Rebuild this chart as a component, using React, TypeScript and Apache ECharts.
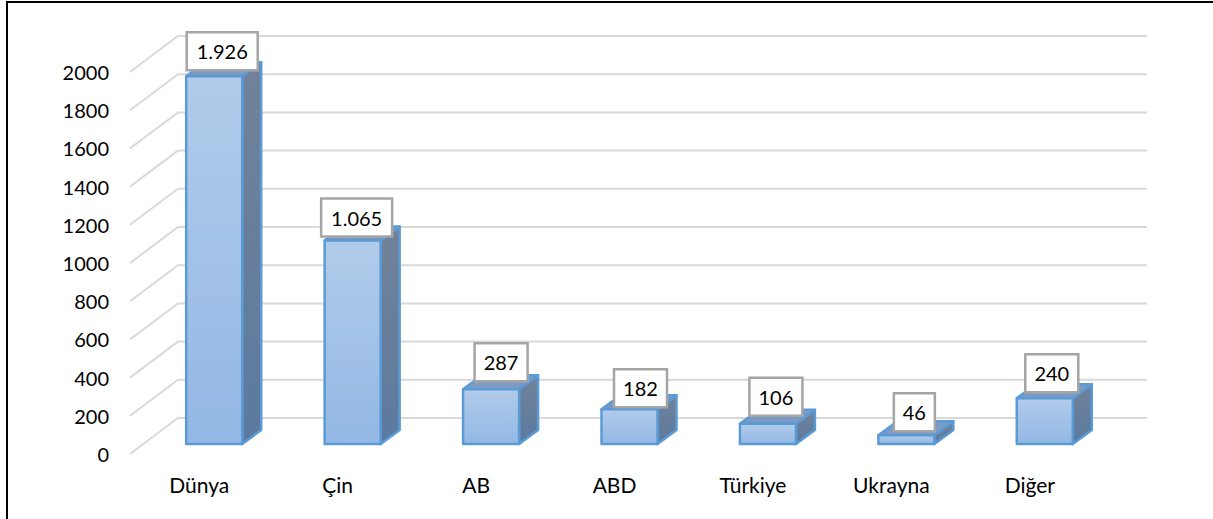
import React, { useEffect, useRef } from "react";
import * as echarts from "echarts";

const categories = ["Dünya", "Çin", "AB", "ABD", "Türkiye", "Ukrayna", "Diğer"];
const values = [1926, 1065, 287, 182, 106, 46, 240];
const labels = ["1.926", "1.065", "287", "182", "106", "46", "240"];
const ticks = [0, 200, 400, 600, 800, 1000, 1200, 1400, 1600, 1800, 2000];
const labelNudgeX = [0, -4, 2, 3, 0, 0, -1];
const labelNudgeY = [-1, 1, -3, 3, -3, 1, -1];

const FONT = "Lato";
const WALL_DX = 48;
const WALL_DY = 36;
const BAR_W = 56;
const BAR_SHIFT_X = 15;
const BAR_SHIFT_Y = -10;
const SIDE_DX = 19;
const SIDE_DY = 14;
const EDGE = "#5b9bd5";

export default function App() {
  const ref = useRef<HTMLDivElement>(null);
  useEffect(() => {
    const chart = echarts.init(ref.current!, undefined, { renderer: "svg" });
    const vGrad = (a: string, b: string) =>
      new echarts.graphic.LinearGradient(0, 0, 0, 1, [
        { offset: 0, color: a },
        { offset: 1, color: b },
      ]);
    chart.setOption({
      animation: false,
      backgroundColor: "#ffffff",
      grid: { left: 130, right: 114, top: 72, bottom: 65, containLabel: false },
      xAxis: {
        type: "category",
        data: categories,
        axisLine: { show: false },
        axisTick: { show: false },
        axisLabel: { color: "#000", fontFamily: FONT, fontSize: 21, margin: 20 },
      },
      yAxis: {
        type: "value",
        min: 0,
        max: 2000,
        interval: 200,
        splitLine: { show: false },
        axisLine: { show: false },
        axisTick: { show: false },
        axisLabel: { color: "#000", fontFamily: FONT, fontSize: 20, margin: 21, padding: [2, 0, 0, 0], formatter: (v: number) => String(v) },
      },
      graphic: [
        {
          type: "rect",
          silent: true,
          z: 100,
          shape: { x: 7, y: 2, width: 1300, height: 600 },
          style: { fill: "none", stroke: "#000", lineWidth: 2 },
        },
      ],
      series: [
        {
          type: "custom",
          name: "walls",
          coordinateSystem: "cartesian2d",
          data: ticks.map((t) => [0, t]),
          encode: { x: 0, y: 1 },
          z: 1,
          silent: true,
          renderItem: (params: any, api: any) => {
            const cs = params.coordSys;
            const y = api.coord([0, api.value(1)])[1];
            return {
              type: "polyline",
              shape: {
                points: [
                  [cs.x, y],
                  [cs.x + WALL_DX, y - WALL_DY],
                  [cs.x + cs.width + WALL_DX, y - WALL_DY],
                ],
              },
              style: { fill: "none", stroke: "#d9d9d9", lineWidth: 2 },
            };
          },
        },
        {
          type: "custom",
          name: "bars",
          coordinateSystem: "cartesian2d",
          data: values.map((v, i) => [i, v]),
          encode: { x: 0, y: 1 },
          z: 2,
          clip: false,
          silent: true,
          renderItem: (_: any, api: any) => {
            const i = api.value(0);
            const v = api.value(1);
            const top = api.coord([i, v]);
            const base = api.coord([i, 0]);
            const x0 = top[0] + BAR_SHIFT_X - BAR_W / 2;
            const x1 = x0 + BAR_W;
            const yT = top[1] + BAR_SHIFT_Y;
            const yB = base[1] + BAR_SHIFT_Y;
            const edge = { stroke: EDGE, lineWidth: 2.5, lineJoin: "round" };
            return {
              type: "group",
              children: [
                {
                  type: "polygon",
                  shape: { points: [[x1, yT], [x1 + SIDE_DX, yT - SIDE_DY], [x1 + SIDE_DX, yB - SIDE_DY], [x1, yB]] },
                  style: { fill: vGrad("#718299", "#5b7a9f"), ...edge },
                },
                {
                  type: "polygon",
                  shape: { points: [[x0, yT], [x0 + SIDE_DX, yT - SIDE_DY], [x1 + SIDE_DX, yT - SIDE_DY], [x1, yT]] },
                  style: { fill: "#7c9ac4", ...edge },
                },
                {
                  type: "rect",
                  shape: { x: x0, y: yT, width: BAR_W, height: yB - yT },
                  style: { fill: vGrad("#b1cbea", "#93b8e5"), ...edge },
                },
              ],
            };
          },
        },
        {
          type: "custom",
          name: "labels",
          coordinateSystem: "cartesian2d",
          data: values.map((v, i) => [i, v]),
          encode: { x: 0, y: 1 },
          z: 3,
          clip: false,
          silent: true,
          renderItem: (p: any, api: any) => {
            const i = api.value(0);
            const top = api.coord([i, api.value(1)]);
            const txt = labels[p.dataIndex];
            const w = txt.length > 3 ? 71 : txt.length > 2 ? 53 : 41;
            const cx = top[0] + BAR_SHIFT_X + 8 + labelNudgeX[p.dataIndex];
            const h = 38;
            const yB = top[1] + BAR_SHIFT_Y - 5 + labelNudgeY[p.dataIndex];
            return {
              type: "group",
              children: [
                {
                  type: "rect",
                  shape: { x: cx - w / 2, y: yB - h, width: w, height: h },
                  style: { fill: "#ffffff", stroke: "#a5a5a5", lineWidth: 2.5 },
                },
                {
                  type: "text",
                  x: cx,
                  y: yB - h / 2,
                  style: { text: txt, fill: "#000", font: `20px ${FONT}`, textAlign: "center", textVerticalAlign: "middle" },
                },
              ],
            };
          },
        },
      ],
    });
    return () => chart.dispose();
  }, []);
  return <div ref={ref} style={{ position: "fixed", left: 0, top: 0, width: 1213, height: 519 }} />;
}
